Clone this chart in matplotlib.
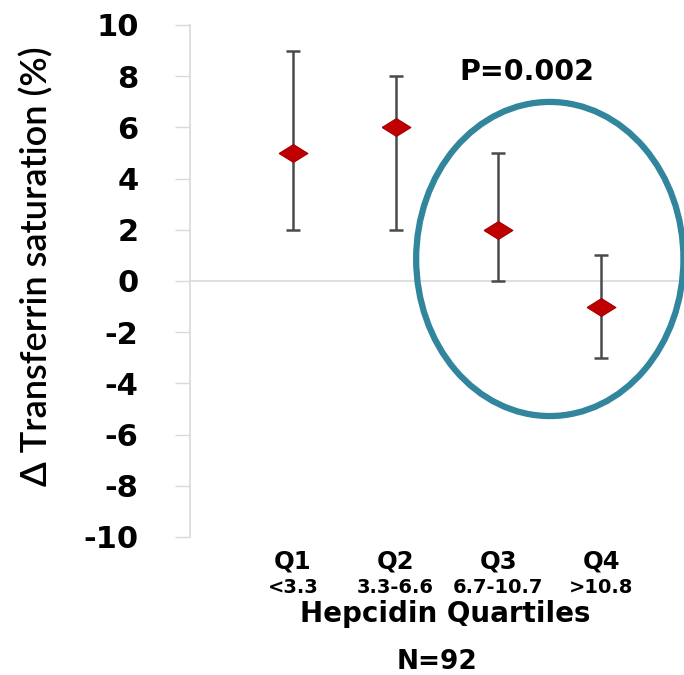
import matplotlib
matplotlib.use("Agg")
import matplotlib.pyplot as plt
from matplotlib.patches import Ellipse
import numpy as np

categories = ["Q1", "Q2", "Q3", "Q4"]
ranges = ["<3.3", "3.3-6.6", "6.7-10.7", ">10.8"]
means = [5, 6, 2, -1]
lower = [2, 2, 0, -3]
upper = [9, 8, 5, 1]
yticks = [10, 8, 6, 4, 2, 0, -2, -4, -6, -8, -10]

W, H = 684, 675
fig = plt.figure(figsize=(W / 100, H / 100), dpi=100)
ax = fig.add_axes([190 / W, 1 - 537 / H, 1 - 190 / W, (537 - 25) / H])

x = np.arange(1, len(categories) + 1)
m = np.array(means)
yerr = np.vstack([m - np.array(lower), np.array(upper) - m])

ax.axhline(0, color="#d9d9d9", lw=1.2, zorder=1)
ax.errorbar(x, m, yerr=yerr, fmt="none", ecolor="#4a4a4a", elinewidth=1.8,
            capsize=5, capthick=1.8, zorder=2)
diamond = [(-1, 0), (0, 0.62), (1, 0), (0, -0.62), (-1, 0)]
ax.scatter(x, m, marker=diamond, s=430, color="#c00000", edgecolor="#a00000",
           linewidth=0.8, zorder=3)

ax.set_xlim(0, (W - 190) / 102.8)
ax.set_ylim(-10, 10)
ax.set_yticks(yticks)
ax.set_yticklabels([str(t) for t in yticks], fontsize=22, fontweight="black",
                   family="DejaVu Sans")
ax.tick_params(axis="y", length=11, width=1, color="#d9d9d9", pad=26)
ax.set_xticks([])
for s in ["top", "right", "bottom"]:
    ax.spines[s].set_visible(False)
ax.spines["left"].set_color("#d9d9d9")
ax.spines["left"].set_linewidth(1.2)

ax.set_ylabel("\u0394 Transferrin saturation (%)", fontsize=26,
              family=["Lato", "DejaVu Sans"], fontweight="semibold")
ax.yaxis.set_label_coords(-137 / (W - 190), (282 - 267) / 512 + 0.5)

ax.text(3.28, 8.16, "P=0.002", ha="center", va="center", fontsize=20.5,
        fontweight="bold")

ell = Ellipse((3.50, 0.86), width=2.60, height=12.27, fill=False,
              edgecolor="#31859c", linewidth=4.5, zorder=4, clip_on=False)
ax.add_patch(ell)

for xi, c, r in zip(x, categories, ranges):
    ax.text(xi, -10.94, c, ha="center", va="center", fontsize=17.5,
            fontweight="bold", clip_on=False)
    ax.text(xi, -11.99, r, ha="center", va="center", fontsize=14,
            fontweight="bold", clip_on=False)
ax.text(2.48, -13.0, "Hepcidin Quartiles", ha="center", va="center",
        fontsize=20, fontweight="bold", clip_on=False)
ax.text(2.40, -14.88, "N=92", ha="center", va="center", fontsize=19,
        fontweight="bold", clip_on=False)

fig.savefig("out.png", dpi=100)
